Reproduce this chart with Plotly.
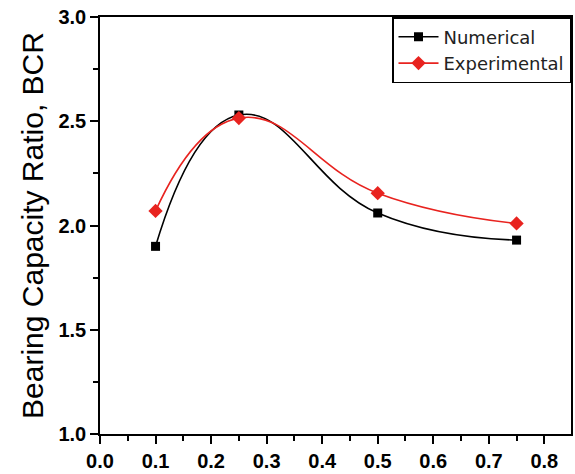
import plotly.graph_objects as go

x_vals = [0.1, 0.25, 0.5, 0.75]
numerical = [1.90, 2.53, 2.06, 1.93]
experimental = [2.07, 2.515, 2.155, 2.01]

fig = go.Figure()
fig.add_trace(go.Scatter(
    x=x_vals, y=numerical, name="Numerical", mode="lines+markers",
    line=dict(color="black", width=1.6, shape="spline", smoothing=1.3),
    marker=dict(symbol="square", size=9, color="black"),
))
fig.add_trace(go.Scatter(
    x=x_vals, y=experimental, name="Experimental", mode="lines+markers",
    line=dict(color="#e8231f", width=1.6, shape="spline", smoothing=1.3),
    marker=dict(symbol="diamond", size=11, color="#e8231f"),
))

axis_common = dict(
    showline=True, linecolor="black", linewidth=1.5, mirror=True,
    ticks="outside", ticklen=8, tickwidth=1.5, tickcolor="black",
    showgrid=False, zeroline=False,
    tickfont=dict(family="Arial", size=20, color="black", weight="bold"),
)

fig.update_xaxes(range=[0, 0.848], tickvals=[0, 0.1, 0.2, 0.3, 0.4, 0.5, 0.6, 0.7, 0.8],
                 tickformat=".1f",
                 minor=dict(ticks="outside", ticklen=5, tickwidth=1.5, tickcolor="black", dtick=0.05),
                 **axis_common)
fig.update_yaxes(range=[1.0, 3.0], dtick=0.5, tickformat=".1f",
                 minor=dict(ticks="outside", ticklen=5, tickwidth=1.5, tickcolor="black", dtick=0.25),
                 title=dict(text="Bearing Capacity Ratio, BCR",
                            font=dict(family="Arial", size=30, color="black"), standoff=6),
                 **axis_common)

fig.update_layout(
    width=575, height=474,
    margin=dict(l=100, r=2, t=17, b=40),
    plot_bgcolor="white", paper_bgcolor="white",
    legend=dict(x=1, y=1, xanchor="right", yanchor="top",
                bordercolor="black", borderwidth=1.5, bgcolor="white",
                font=dict(family="DejaVu Sans", size=18, color="#222"),
                tracegroupgap=0, itemwidth=40),
    showlegend=True,
)

fig.write_html("out.html")
